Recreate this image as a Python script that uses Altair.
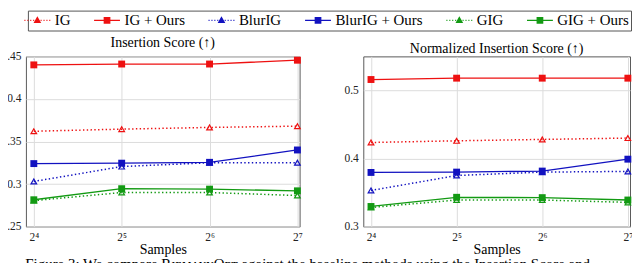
import altair as alt
import pandas as pd

samples = [16, 32, 64, 128]
x_labels = ["2⁴", "2⁵", "2⁶", "2⁷"]
series = ["IG", "IG + Ours", "BlurIG", "BlurIG + Ours", "GIG", "GIG + Ours"]
colors = ["#ee1111", "#ee1111", "#1212c0", "#1212c0", "#139a13", "#139a13"]
baselines = ["IG", "BlurIG", "GIG"]
ours = ["IG + Ours", "BlurIG + Ours", "GIG + Ours"]

# Insertion Score
ins_ig = [0.362, 0.3645, 0.3665, 0.368]
ins_ig_ours = [0.440, 0.441, 0.441, 0.4455]
ins_blur = [0.303, 0.3205, 0.325, 0.325]
ins_blur_ours = [0.324, 0.3245, 0.3255, 0.340]
ins_gig = [0.2805, 0.290, 0.290, 0.2865]
ins_gig_ours = [0.2815, 0.2945, 0.294, 0.292]

# Normalized Insertion Score
norm_ig = [0.4235, 0.426, 0.428, 0.430]
norm_ig_ours = [0.516, 0.518, 0.518, 0.518]
norm_blur = [0.353, 0.375, 0.380, 0.381]
norm_blur_ours = [0.3795, 0.380, 0.3815, 0.399]
norm_gig = [0.328, 0.339, 0.339, 0.3355]
norm_gig_ours = [0.3295, 0.343, 0.3425, 0.339]

ins_values = [ins_ig, ins_ig_ours, ins_blur, ins_blur_ours, ins_gig, ins_gig_ours]
norm_values = [norm_ig, norm_ig_ours, norm_blur, norm_blur_ours, norm_gig, norm_gig_ours]

caption = "Figure 3: We compare RɪᴇᴍᴀɴɴOᴘᴛ against the baseline methods using the Insertion Score and"


def long_df(values):
    rows = []
    for name, col, vals in zip(series, colors, values):
        for s, v in zip(samples, vals):
            rows.append({"series": name, "hex": col, "samples": s, "value": v})
    return pd.DataFrame(rows)


label_expr = " : ".join(
    f"datum.value == {s} ? '{l}'" for s, l in zip(samples, x_labels)
) + " : ''"

SERIF = "Liberation Serif"

# legend symbol paths (unit coords)
dots = "".join(f"M{x:.2f},0L{x + 0.16:.2f},0" for x in [-2.0, -1.55, -1.1, -0.65, 0.5, 0.95, 1.4, 1.84])
tri_path = dots + "M-0.42,0.32L0,-0.42L0.42,0.32Z"
sq_path = "M-2,0L2,0M-0.42,-0.42L0.42,-0.42L0.42,0.42L-0.42,0.42Z"
paths = [tri_path, sq_path, tri_path, sq_path, tri_path, sq_path]


def panel(values, title, ydom, yvals, width, with_legend=False):
    df = long_df(values)
    x = alt.X(
        "samples:Q",
        scale=alt.Scale(type="log", base=2, domain=[2 ** 3.91, 2 ** 7.025], nice=False),
        axis=alt.Axis(values=samples, labelExpr=label_expr, title="Samples"),
    )
    y = alt.Y(
        "value:Q",
        scale=alt.Scale(domain=ydom, nice=False, zero=False),
        axis=alt.Axis(values=yvals, format=".2~f", title=None),
    )
    color = alt.Color("hex:N", scale=None)
    base = alt.Chart(df).encode(x=x, y=y, color=color, detail="series:N")
    dotted = base.transform_filter(alt.FieldOneOfPredicate(field="series", oneOf=baselines)).mark_line(
        strokeDash=[1.4, 2.4], strokeWidth=1.5
    )
    solid = base.transform_filter(alt.FieldOneOfPredicate(field="series", oneOf=ours)).mark_line(
        strokeWidth=1.3
    )
    tri = base.transform_filter(alt.FieldOneOfPredicate(field="series", oneOf=baselines)).mark_point(
        shape="triangle-up", size=32, filled=False, strokeWidth=1.2, opacity=1
    )
    sq = base.transform_filter(alt.FieldOneOfPredicate(field="series", oneOf=ours)).mark_point(
        shape="square", size=48, filled=True, opacity=1
    )
    layers = [dotted, solid, tri, sq]
    if with_legend:
        leg_cfg = alt.Legend(
            title=None,
            orient="none",
            legendX=2,
            legendY=-46,
            direction="horizontal",
            columns=6,
            labelFont=SERIF,
            labelFontSize=15,
            labelColor="black",
            labelOffset=10,
            columnPadding=20,
            symbolSize=169,
            symbolStrokeWidth=1.3,
            symbolOpacity=1,
            padding=2,
            strokeColor="#555555",
            fillColor="white",
        )
        leg = (
            alt.Chart(df)
            .mark_point(filled=True, opacity=0)
            .encode(
                x=x,
                y=y,
                shape=alt.Shape("series:N", scale=alt.Scale(domain=series, range=paths), legend=leg_cfg),
                fill=alt.Fill("series:N", scale=alt.Scale(domain=series, range=colors), legend=leg_cfg),
                stroke=alt.Stroke("series:N", scale=alt.Scale(domain=series, range=colors), legend=leg_cfg),
            )
        )
        layers.append(leg)
    return alt.layer(*layers).properties(
        width=width,
        height=171,
        title=alt.TitleParams(title, font=SERIF, fontSize=14, fontWeight="normal", color="black", offset=0),
    )


left = panel(ins_values, "Insertion Score (↑)", [0.25, 0.45], [0.25, 0.3, 0.35, 0.4, 0.45], 275, with_legend=True)
right = panel(norm_values, "Normalized Insertion Score (↑)", [0.3, 0.55], [0.3, 0.4, 0.5], 268)

chart = (
    alt.hconcat(left, right, spacing=40)
    .properties(
        padding={"left": -8, "top": 1, "right": -2, "bottom": -10},
        title=alt.TitleParams(
            caption,
            orient="bottom",
            anchor="start",
            font=SERIF,
            fontSize=15,
            fontWeight="normal",
            color="black",
            offset=0,
            dx=25,
        ),
    )
    .configure_view(stroke="#5a5a5a", strokeWidth=1)
    .configure_axis(
        grid=True,
        gridColor="#dcdcdc",
        gridWidth=1,
        domain=False,
        ticks=False,
        labelFont=SERIF,
        labelFontSize=11.5,
        labelColor="#222222",
        labelPadding=5,
        titleFont=SERIF,
        titleFontSize=14,
        titleFontWeight="normal",
        titleColor="black",
        titlePadding=0,
    )
)

chart.save("out.html", embed_options={"renderer": "svg", "actions": False})
